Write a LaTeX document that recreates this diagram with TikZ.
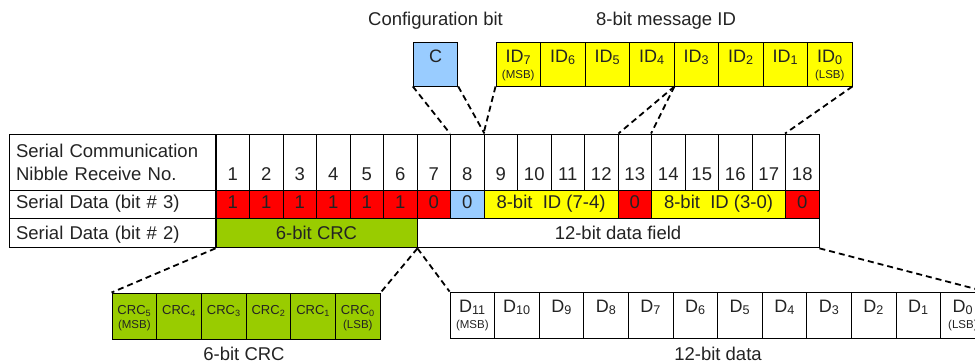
\documentclass[tikz,border=0pt]{standalone}
\usepackage{fontspec}
\setmainfont{Liberation Sans}
\usetikzlibrary{positioning}

\definecolor{bitred}{RGB}{255,0,0}
\definecolor{cfgblue}{RGB}{153,204,255}
\definecolor{idyellow}{RGB}{255,255,0}
\definecolor{crcgreen}{RGB}{153,204,0}
\definecolor{ink}{RGB}{35,35,35}

\newcommand{\bodyfont}{\fontsize{18.5}{23}\selectfont}
\newcommand{\bitfont}{\fontsize{18}{20}\selectfont}
\newcommand{\crcfont}{\fontsize{13}{14}\selectfont}
\newcommand{\tagfont}{\fontsize{11.5}{13}\selectfont}

\begin{document}
\begin{tikzpicture}[x=1pt, y=-1pt, on grid, line width=0.9pt,
    every node/.style={font=\bodyfont, text=ink},
    gridcell/.style={draw, inner sep=0pt, minimum width=33.5pt, minimum height=28pt,
      text height=18pt, text depth=10pt},
    numcell/.style={gridcell, minimum height=56pt, text height=46pt},
    fieldcell/.style={gridcell, minimum height=29pt, text height=20.5pt, text depth=8.5pt},
    rowhead/.style={draw, inner xsep=7pt, inner ysep=0pt, minimum width=206pt,
      text width=192pt, align=left, anchor=north east},
    topbox/.style={draw, inner sep=0pt, minimum width=44.5pt, minimum height=44pt,
      text height=20pt, text depth=24pt, font=\bitfont},
    crcbox/.style={draw, fill=crcgreen, inner sep=0pt, minimum width=44.7pt,
      minimum height=46pt, text height=21pt, text depth=25pt, font=\crcfont},
    databox/.style={draw, inner sep=0pt, minimum width=44.6pt, minimum height=46pt,
      text height=20pt, text depth=26pt, font=\bitfont},
    tag/.style={font=\tagfont, anchor=base, inner sep=0pt, yshift=#1},
    link/.style={line width=1.8pt, dash pattern=on 6pt off 4pt}]

    \useasboundingbox (0,0) rectangle (975,364);

    % nibble numbers
    \node[numcell] (n1) at (232.75,162) {1};
    \foreach \i [remember=\i as \j (initially 1)] in {2,...,18}
        \node[numcell, right=33.5pt of n\j] (n\i) {\i};
    \node[rowhead, minimum height=56pt] (hdr1) at (n1.north west)
        {Serial Communication\\Nibble Receive No.};

    % bit 3
    \foreach \i/\v in {1/1,2/1,3/1,4/1,5/1,6/1,7/0}
        \node[gridcell, fill=bitred, below=42pt of n\i] (b\i) {\v};
    \node[gridcell, fill=cfgblue, below=42pt of n8] (b8) {0};
    \node[gridcell, fill=idyellow, minimum width=134pt, anchor=north west] (idhi)
        at (n9.south west) {8-bit~~ID (7-4)};
    \node[gridcell, fill=bitred, below=42pt of n13] (b13) {0};
    \node[gridcell, fill=idyellow, minimum width=134pt, anchor=north west] (idlo)
        at (n14.south west) {8-bit~~ID (3-0)};
    \node[gridcell, fill=bitred, below=42pt of n18] (b18) {0};
    \node[rowhead, minimum height=28pt, text height=18pt, text depth=10pt] (hdr2)
        at (b1.north west) {Serial Data (bit \# 3)};

    % bit 2
    \node[fieldcell, fill=crcgreen, minimum width=201pt, anchor=north west] (crcrow)
        at (b1.south west) {6-bit CRC};
    \node[fieldcell, minimum width=402pt, anchor=north west] (datarow)
        at (b7.south west) {12-bit data field};
    \node[rowhead, minimum height=29pt, text height=20.5pt, text depth=8.5pt] (hdr3)
        at (crcrow.north west) {Serial Data (bit \# 2)};

    % configuration bit and message ID
    \node[topbox, fill=cfgblue] (cfg) at (435.5,64) {C};
    \node[above=43pt of cfg] (cfgtitle) {Configuration bit};
    \node[topbox, fill=idyellow, label={[tag=8.4pt]south:(MSB)}] (id7) at (518.25,64)
        {ID\textsubscript{7}};
    \foreach \k [remember=\k as \p (initially 7)] in {6,...,1}
        \node[topbox, fill=idyellow, right=44.5pt of id\p] (id\k) {ID\textsubscript{\k}};
    \node[topbox, fill=idyellow, right=44.5pt of id1, label={[tag=8.4pt]south:(LSB)}] (id0)
        {ID\textsubscript{0}};
    \node (msgtitle) at (666,21) {8-bit message ID};

    % CRC bits
    \node[crcbox, label={[tag=11.4pt]south:(MSB)}] (crc5) at (134.35,316) {CRC\textsubscript{5}};
    \foreach \k [remember=\k as \p (initially 5)] in {4,...,1}
        \node[crcbox, right=44.7pt of crc\p] (crc\k) {CRC\textsubscript{\k}};
    \node[crcbox, right=44.7pt of crc1, label={[tag=11.4pt]south:(LSB)}] (crc0)
        {CRC\textsubscript{0}};
    \node (crctitle) at (244,353.5) {6-bit CRC};

    % data bits
    \node[databox, label={[tag=9.5pt]south:(MSB)}] (d11) at (472.3,315) {D\textsubscript{11}};
    \foreach \k [remember=\k as \p (initially 11)] in {10,...,1}
        \node[databox, right=44.6pt of d\p] (d\k) {D\textsubscript{\k}};
    \node[databox, right=44.6pt of d1, label={[tag=9.5pt]south:(LSB)}] (d0)
        {D\textsubscript{0}};
    \node (datatitle) at (718,353.5) {12-bit data};

    % dashed links
    \draw[link] (cfg.south west) -- (n8.north west);
    \draw[link] (cfg.south east) -- (n8.north east);
    \draw[link] (id7.south west) -- (n9.north west);
    \draw[link] (id4.south east) -- (n12.north east);
    \draw[link] (id4.south east) -- (n14.north west);
    \draw[link] (id0.south east) -- (n18.north west);
    \draw[link] (crcrow.south west) -- (crc5.north west);
    \draw[link] (crcrow.south east) -- (crc0.north east);
    \draw[link] (crcrow.south east) -- (d11.north west);
    \draw[link] (datarow.south east) -- (d0.north east);
\end{tikzpicture}
\end{document}
